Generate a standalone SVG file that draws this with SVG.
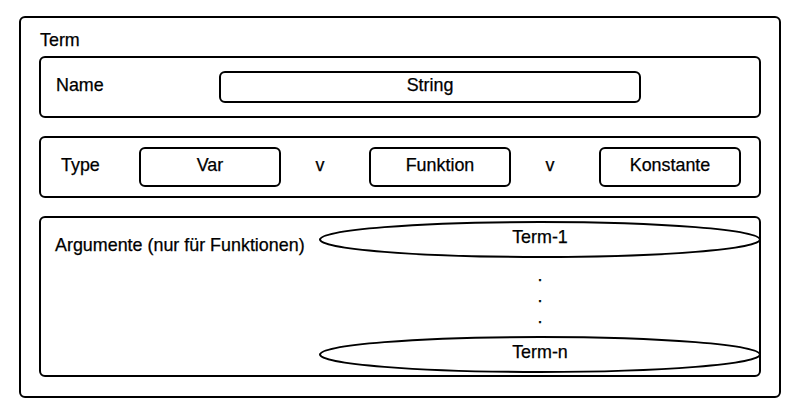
<svg xmlns="http://www.w3.org/2000/svg" width="804" height="409" viewBox="0 0 804 409">
<style>
.box{fill:#fff;stroke:#000;stroke-width:2}
.t{font-family:"Liberation Sans",Arial,sans-serif;font-size:17.9px;fill:#000;stroke:#000;stroke-width:0.25}
.c{text-anchor:middle}
</style>
<rect width="804" height="409" fill="#fff"/>
<g id="term">
<rect class="box" x="20" y="17" width="760" height="380" rx="5"/>
<text class="t" x="40" y="46">Term</text>
</g>
<g id="name">
<rect class="box" x="40" y="57" width="720" height="60" rx="5"/>
<text class="t" x="56" y="91">Name</text>
</g>
<g id="string">
<rect class="box" x="220" y="72" width="420" height="30" rx="5"/>
<text class="t c" x="430" y="91">String</text>
</g>
<g id="type">
<rect class="box" x="40" y="137" width="720" height="60" rx="5"/>
<text class="t" x="61" y="171">Type</text>
</g>
<g id="var">
<rect class="box" x="140" y="148" width="140" height="38" rx="5"/>
<text class="t c" x="210" y="171">Var</text>
</g>
<g id="or1"><text class="t c" x="320" y="171">v</text></g>
<g id="funktion">
<rect class="box" x="370" y="148" width="140" height="38" rx="5"/>
<text class="t c" x="440" y="171">Funktion</text>
</g>
<g id="or2"><text class="t c" x="550" y="171">v</text></g>
<g id="konstante">
<rect class="box" x="600" y="148" width="140" height="38" rx="5"/>
<text class="t c" x="670" y="171">Konstante</text>
</g>
<g id="argumente">
<rect class="box" x="40" y="217" width="720" height="159" rx="5"/>
<text class="t" x="55" y="251">Argumente (nur für Funktionen)</text>
</g>
<g id="term1">
<ellipse class="box" cx="540" cy="239.5" rx="220" ry="17.5"/>
<text class="t c" x="540" y="243">Term-1</text>
</g>
<g id="dots">
<text class="t c" x="540" y="281">.</text>
<text class="t c" x="540" y="302">.</text>
<text class="t c" x="540" y="323">.</text>
</g>
<g id="termn">
<ellipse class="box" cx="540" cy="354.5" rx="220" ry="17.5"/>
<text class="t c" x="540" y="358">Term-n</text>
</g>
<g id="connectors"></g>
</svg>
